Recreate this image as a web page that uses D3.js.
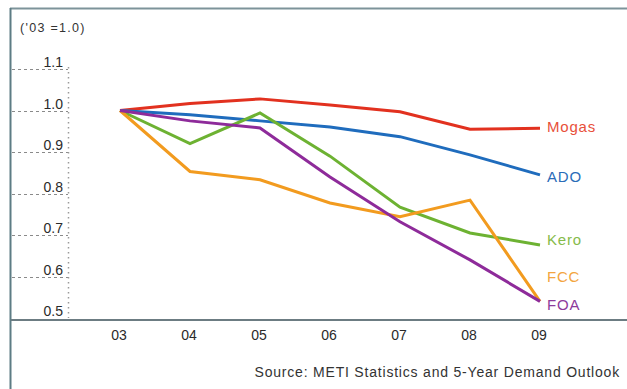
<!DOCTYPE html>
<html>
<head>
<meta charset="utf-8">
<script src="https://cdn.jsdelivr.net/npm/d3@7"></script>
<style>
  html, body { margin: 0; padding: 0; background: #fff; }
  svg { display: block; font-family: "Liberation Sans", Arial, sans-serif; }
</style>
</head>
<body>
<svg id="chart" width="627" height="389"></svg>
<script>
// Fiscal years on the x axis
const years = ["03", "04", "05", "06", "07", "08", "09"];

// Demand index per product ('03 = 1.0)
const mogas = [1.0, 1.017, 1.028, 1.013, 0.997, 0.955, 0.957];
const ado   = [1.0, 0.99, 0.975, 0.96, 0.937, 0.893, 0.845];
const kero  = [1.0, 0.92, 0.994, 0.89, 0.767, 0.705, 0.676];
const fcc   = [1.0, 0.853, 0.833, 0.777, 0.744, 0.784, 0.54];
const foa   = [1.0, 0.975, 0.958, 0.84, 0.732, 0.64, 0.54];

const seriesNames = ["Mogas", "ADO", "Kero", "FCC", "FOA"];
const seriesColors = ["#e2311f", "#1f6cbd", "#6db232", "#f29b1f", "#8e2b9a"];
const labelColors  = ["#e8503a", "#2a6cb8", "#86bb4a", "#f3a540", "#8d3b9b"];
const yTicks = [0.5, 0.6, 0.7, 0.8, 0.9, 1.0, 1.1];
const unitLabel = "('03 =1.0)";
const sourceText = "Source: METI Statistics and 5-Year Demand Outlook";

const series = [mogas, ado, kero, fcc, foa];

const svg = d3.select("#chart");

// Frame: top rule and left rule
svg.append("line").attr("x1", 10).attr("x2", 627).attr("y1", 8.5).attr("y2", 8.5)
  .attr("stroke", "#7d939a").attr("stroke-width", 2);
svg.append("line").attr("x1", 10.5).attr("x2", 10.5).attr("y1", 8).attr("y2", 389)
  .attr("stroke", "#5d7c84").attr("stroke-width", 2);

const x = d3.scalePoint().domain(years).range([120, 540]);
const y = d3.scaleLinear().domain([0.5, 1.1]).range([318, 69]);

// Unit note
svg.append("text").attr("x", 20).attr("y", 32)
  .attr("font-size", 12.5).attr("letter-spacing", 1.3).attr("fill", "#333").text(unitLabel);

// Y tick dashes (left of the dotted axis), skipping the baseline value
svg.append("g").selectAll("line").data(yTicks.filter(d => d > 0.5)).join("line")
  .attr("x1", 12).attr("x2", 68)
  .attr("y1", d => Math.round(y(d)) + 0.5).attr("y2", d => Math.round(y(d)) + 0.5)
  .attr("stroke", "#8a8a8a").attr("stroke-width", 1).attr("stroke-dasharray", "3,3");

// Dotted vertical y axis
svg.append("line").attr("x1", 68.5).attr("x2", 68.5).attr("y1", 67).attr("y2", 318)
  .attr("stroke", "#9a9a9a").attr("stroke-width", 1.5).attr("stroke-dasharray", "1.5,3.5");

// Y tick labels
svg.append("g").selectAll("text").data(yTicks).join("text")
  .attr("x", 63).attr("y", d => y(d) - 2)
  .attr("text-anchor", "end").attr("font-size", 14).attr("fill", "#2a2a2a")
  .text(d => d3.format(".1f")(d));

// X axis line
svg.append("line").attr("x1", 11).attr("x2", 627).attr("y1", 320).attr("y2", 320)
  .attr("stroke", "#6c7c82").attr("stroke-width", 2);

// X tick labels
svg.append("g").selectAll("text").data(years).join("text")
  .attr("x", d => x(d) - 1).attr("y", 340)
  .attr("text-anchor", "middle").attr("font-size", 14).attr("fill", "#2a2a2a")
  .text(d => d);

// Series lines
const line = d3.line().x((d, i) => x(years[i])).y(d => y(d));
svg.append("g").selectAll("path").data(series).join("path")
  .attr("d", d => line(d))
  .attr("fill", "none")
  .attr("stroke", (d, i) => seriesColors[i])
  .attr("stroke-width", 3)
  .attr("stroke-linejoin", "miter");

// Series end labels
const labelY = [132, 182, 245, 282, 310];
svg.append("g").selectAll("text").data(seriesNames).join("text")
  .attr("x", 547).attr("y", (d, i) => labelY[i])
  .attr("font-size", 15).attr("letter-spacing", 0.8).attr("fill", (d, i) => labelColors[i])
  .text(d => d);

// Source note
svg.append("text").attr("x", 620).attr("y", 377)
  .attr("text-anchor", "end").attr("font-size", 14).attr("letter-spacing", 0.8).attr("fill", "#333")
  .text(sourceText);
</script>
</body>
</html>
